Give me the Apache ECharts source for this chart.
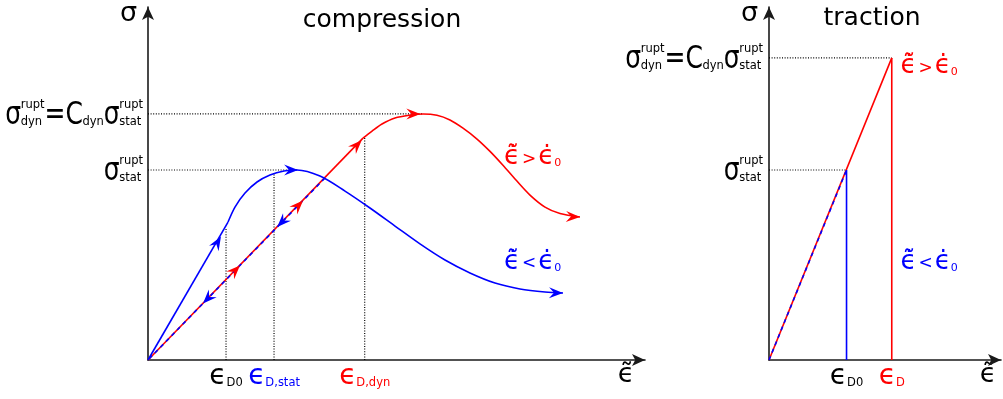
<!DOCTYPE html>
<html>
<head>
<meta charset="utf-8">
<script src="https://cdn.jsdelivr.net/npm/echarts@6/dist/echarts.min.js"></script>
<style>
html, body { margin: 0; padding: 0; background: #fff; }
#main { width: 1003px; height: 399px; }
</style>
</head>
<body>
<div id="main"></div>
<script>
// ---- compression (left) : strain, stress with sigma_stat = 1 ----
var compXMax = 5.0, compYMax = 1.858;
var blueLoad = [[0, 0], [0.805, 0.726]];
var blueCurve = [[0.805, 0.726], [0.875, 0.805], [0.976, 0.879], [1.097, 0.937], [1.227, 0.974], [1.368, 0.995],
  [1.499, 1.0], [1.730, 0.968], [1.982, 0.889], [2.233, 0.800], [2.485, 0.705], [2.736, 0.611], [2.988, 0.526],
  [3.239, 0.458], [3.491, 0.405], [3.742, 0.374], [3.994, 0.358], [4.175, 0.353]];
var blueUnload = [[1.78, 0.958], [0, 0]];
var redLoad = [[0, 0], [2.163, 1.168]];
var redCurve = [[2.163, 1.168], [2.254, 1.205], [2.354, 1.242], [2.485, 1.274], [2.636, 1.289], [2.767, 1.295],
  [2.907, 1.288], [3.038, 1.263], [3.169, 1.220], [3.310, 1.163], [3.441, 1.098], [3.571, 1.025], [3.702, 0.947],
  [3.843, 0.868], [3.994, 0.805], [4.145, 0.771], [4.346, 0.753]];
// arrow heads: [x, y, dirX, dirY]
var blueArrows = [[0.734, 0.65, 0.785, 0.695], [1.51, 1.0, 1, 0], [1.30, 0.70, -1, -0.538],
  [0.553, 0.298, -1, -0.538], [4.175, 0.353, 1, -0.01]];
var redArrows = [[0.925, 0.498, 1, 0.538], [1.56, 0.839, 1, 0.538], [2.15, 1.157, 1, 0.538],
  [2.74, 1.295, 1, 0], [4.346, 0.753, 1, -0.02]];
var compEps = [0.785, 1.268, 2.18];
var compEpsSub = ['D0', 'D,stat', 'D,dyn'];
var compEpsColor = ['K', 'B', 'R'];
var compSigStat = 1.0, compSigDyn = 1.295;
var compStatPeakX = 1.499, compDynPeakX = 2.767;
var compD0Top = 0.695, compStatEpsTop = 0.978, compDynEpsTop = 1.168;

// ---- traction (right) ----
var tracXMax = 2.334, tracYMax = 1.858;
var tracEps = [0.78, 1.235];
var tracEpsSub = ['D0', 'D'];
var tracEpsColor = ['K', 'R'];
var tracSig = [1.0, 1.59];

var BLUE = '#0000ff', RED = '#ff0000', FONT = '"DejaVu Sans", sans-serif';

function seg(data, color, type, width, xi, smooth) {
  return {
    type: 'line', xAxisIndex: xi, yAxisIndex: xi, data: data, symbol: 'none', silent: true,
    smooth: smooth || false,
    lineStyle: { color: color, width: width, type: type }, z: 3
  };
}
function arrowSeries(data, color) {
  return {
    type: 'custom', xAxisIndex: 0, yAxisIndex: 0, data: data, silent: true, clip: false, z: 5,
    encode: { x: 0, y: 1 },
    renderItem: function (params, api) {
      var p = api.coord([api.value(0), api.value(1)]);
      var q = api.coord([api.value(0) + api.value(2) * 0.1, api.value(1) + api.value(3) * 0.1]);
      var a = Math.atan2(q[1] - p[1], q[0] - p[0]);
      var c = Math.cos(a), s = Math.sin(a);
      var pts = [[0, 0], [-14, -5.5], [-9, 0], [-14, 5.5]].map(function (d) {
        return [p[0] + d[0] * c - d[1] * s, p[1] + d[0] * s + d[1] * c];
      });
      return { type: 'polygon', shape: { points: pts }, style: { fill: color } };
    }
  };
}
var epsRich = {
  eK: { fontSize: 28, color: '#000', fontFamily: FONT },
  sK: { fontSize: 11.5, color: '#000', fontFamily: FONT, padding: [13, 0, 0, 0] },
  eB: { fontSize: 28, color: BLUE, fontFamily: FONT },
  sB: { fontSize: 11.5, color: BLUE, fontFamily: FONT, padding: [13, 0, 0, 0] },
  eR: { fontSize: 28, color: RED, fontFamily: FONT },
  sR: { fontSize: 11.5, color: RED, fontFamily: FONT, padding: [13, 0, 0, 0] }
};
function epsFormatter(vals, subs, cols) {
  return function (v) {
    for (var i = 0; i < vals.length; i++) {
      if (Math.abs(v - vals[i]) < 1e-6) return '{e' + cols[i] + '|ϵ}{s' + cols[i] + '|' + subs[i] + '}';
    }
    return '';
  };
}
function xAx(grid, max, vals, subs, cols, gap) {
  return {
    type: 'value', gridIndex: grid, min: 0, max: max,
    axisLine: { lineStyle: { color: '#1a1a1a', width: 1.6 }, symbol: ['none', 'arrow'], symbolSize: [9, 13] },
    axisTick: { show: false }, splitLine: { show: false },
    axisLabel: { customValues: vals, formatter: epsFormatter(vals, subs, cols), rich: epsRich, margin: 3 },
    name: 'ϵ\u0303', nameLocation: 'end', nameGap: gap,
    nameTextStyle: { fontSize: 27, fontFamily: FONT, color: '#000', align: 'center', verticalAlign: 'top', padding: [1, 0, 0, 0] }
  };
}
function yAx(grid, max) {
  return {
    type: 'value', gridIndex: grid, min: 0, max: max,
    axisLine: { lineStyle: { color: '#1a1a1a', width: 1.6 }, symbol: ['none', 'arrow'], symbolSize: [9, 13] },
    axisTick: { show: false }, splitLine: { show: false }, axisLabel: { show: false },
    name: 'σ', nameLocation: 'end', nameGap: -7,
    nameTextStyle: { fontSize: 27, fontFamily: FONT, color: '#000', align: 'right', verticalAlign: 'middle', padding: [0, 11, 0, 0] }
  };
}

var dot = [1, 1.6];
var option = {
  animation: false,
  grid: [
    { left: 148, top: 7, width: 497, height: 353 },
    { left: 769, top: 7, width: 232, height: 353 }
  ],
  xAxis: [xAx(0, compXMax, compEps, compEpsSub, compEpsColor, -19), xAx(1, tracXMax, tracEps, tracEpsSub, tracEpsColor, -13)],
  yAxis: [yAx(0, compYMax), yAx(1, tracYMax)],
  series: [
    // compression guides
    seg([[0, compSigDyn], [compDynPeakX, compSigDyn]], '#000', dot, 1.2, 0),
    seg([[0, compSigStat], [compStatPeakX, compSigStat]], '#000', dot, 1.2, 0),
    seg([[compEps[0], 0], [compEps[0], compD0Top]], '#000', dot, 1.2, 0),
    seg([[compEps[1], 0], [compEps[1], compStatEpsTop]], '#000', dot, 1.2, 0),
    seg([[compEps[2], 0], [compEps[2], compDynEpsTop]], '#000', dot, 1.2, 0),
    // compression curves
    seg(redLoad, RED, 'solid', 1.6, 0),
    seg(blueUnload, BLUE, [4, 4], 1.6, 0),
    seg(blueLoad, BLUE, 'solid', 1.6, 0),
    seg(blueCurve, BLUE, 'solid', 1.6, 0, 0.3),
    seg(redCurve, RED, 'solid', 1.6, 0, 0.3),
    arrowSeries(blueArrows, BLUE),
    arrowSeries(redArrows, RED),
    // traction guides
    seg([[0, tracSig[1]], [tracEps[1], tracSig[1]]], '#000', dot, 1.2, 1),
    seg([[0, tracSig[0]], [tracEps[0], tracSig[0]]], '#000', dot, 1.2, 1),
    // traction lines
    seg([[0, 0], [tracEps[1], tracSig[1]]], RED, 'solid', 1.6, 1),
    seg([[0, 0], [tracEps[0], tracSig[0]]], BLUE, [4, 4], 1.6, 1),
    seg([[tracEps[0], tracSig[0]], [tracEps[0], 0]], BLUE, 'solid', 1.6, 1),
    seg([[tracEps[1], tracSig[1]], [tracEps[1], 0]], RED, 'solid', 1.6, 1)
  ]
};

var chart = echarts.init(document.getElementById('main'));
chart.setOption(option);

// ---- text annotations (placed from data coordinates) ----
var ctx = document.createElement('canvas').getContext('2d');
function tw(t, size) { ctx.font = size + 'px ' + FONT; return ctx.measureText(t).width; }
function txt(t, x, y, size, color, align, sy) {
  return { type: 'text', x: x, y: y, silent: true, z: 10, scaleY: sy || 1,
    style: { text: t, fontSize: size, fontFamily: FONT, fill: color, align: align || 'left', verticalAlign: 'middle' } };
}
// right-aligned formula with stacked super/subscripts
function stackLabel(parts, rx, cy) {
  var els = [], x = rx;
  for (var i = parts.length - 1; i >= 0; i--) {
    var p = parts[i];
    var w2 = Math.max(p.sup ? tw(p.sup, 11.5) : 0, p.sub ? tw(p.sub, 11.5) : 0);
    x -= w2;
    if (p.sup) els.push(txt(p.sup, x, cy - 9, 11.5, '#000'));
    if (p.sub) els.push(txt(p.sub, x, cy + 8, 11.5, '#000'));
    x -= tw(p.t, 25) - (w2 ? 0.5 : 0);
    els.push(txt(p.t, x, cy + 2, 25, '#000', 'left', 1.3));
  }
  return els;
}
var sigDynParts = [{ t: 'σ', sup: 'rupt', sub: 'dyn' }, { t: '=' }, { t: 'C', sub: 'dyn' }, { t: 'σ', sup: 'rupt', sub: 'stat' }];
var sigStatParts = [{ t: 'σ', sup: 'rupt', sub: 'stat' }];

function rateLabel(pt, color, op) {
  return { type: 'text', x: pt[0], y: pt[1], silent: true, z: 10,
    style: { text: '{e|ϵ\u0303\u0307}{o|' + op + '}{e|ϵ\u0307}{s|0}', fill: color, align: 'center', verticalAlign: 'middle',
      rich: { e: { fontSize: 26, fontFamily: FONT, fill: color }, o: { fontSize: 17, fontFamily: FONT, fill: color, padding: [4, 2, 0, 2] },
        s: { fontSize: 11, fontFamily: FONT, fill: color, padding: [12, 0, 0, 0] } } } };
}

var g = [];
var a0 = chart.convertToPixel({ gridIndex: 0 }, [0, compSigDyn]);
var a1 = chart.convertToPixel({ gridIndex: 0 }, [0, compSigStat]);
var b0 = chart.convertToPixel({ gridIndex: 1 }, [0, tracSig[1]]);
var b1 = chart.convertToPixel({ gridIndex: 1 }, [0, tracSig[0]]);
g = g.concat(stackLabel(sigDynParts, a0[0] - 5, a0[1]));
g = g.concat(stackLabel(sigStatParts, a1[0] - 5, a1[1]));
g = g.concat(stackLabel(sigDynParts, b0[0] - 6, b0[1]));
g = g.concat(stackLabel(sigStatParts, b1[0] - 6, b1[1]));
g.push(rateLabel(chart.convertToPixel({ gridIndex: 0 }, [3.87, 1.068]), RED, '>'));
g.push(rateLabel(chart.convertToPixel({ gridIndex: 0 }, [3.87, 0.516]), BLUE, '<'));
g.push(rateLabel(chart.convertToPixel({ gridIndex: 1 }, [1.61, 1.545]), RED, '>'));
g.push(rateLabel(chart.convertToPixel({ gridIndex: 1 }, [1.61, 0.516]), BLUE, '<'));
g.push(txt('compression', 382, 20, 25, '#000', 'center'));
g.push(txt('traction', 872, 18, 25, '#000', 'center'));
chart.setOption({ graphic: g });
</script>
</body>
</html>
